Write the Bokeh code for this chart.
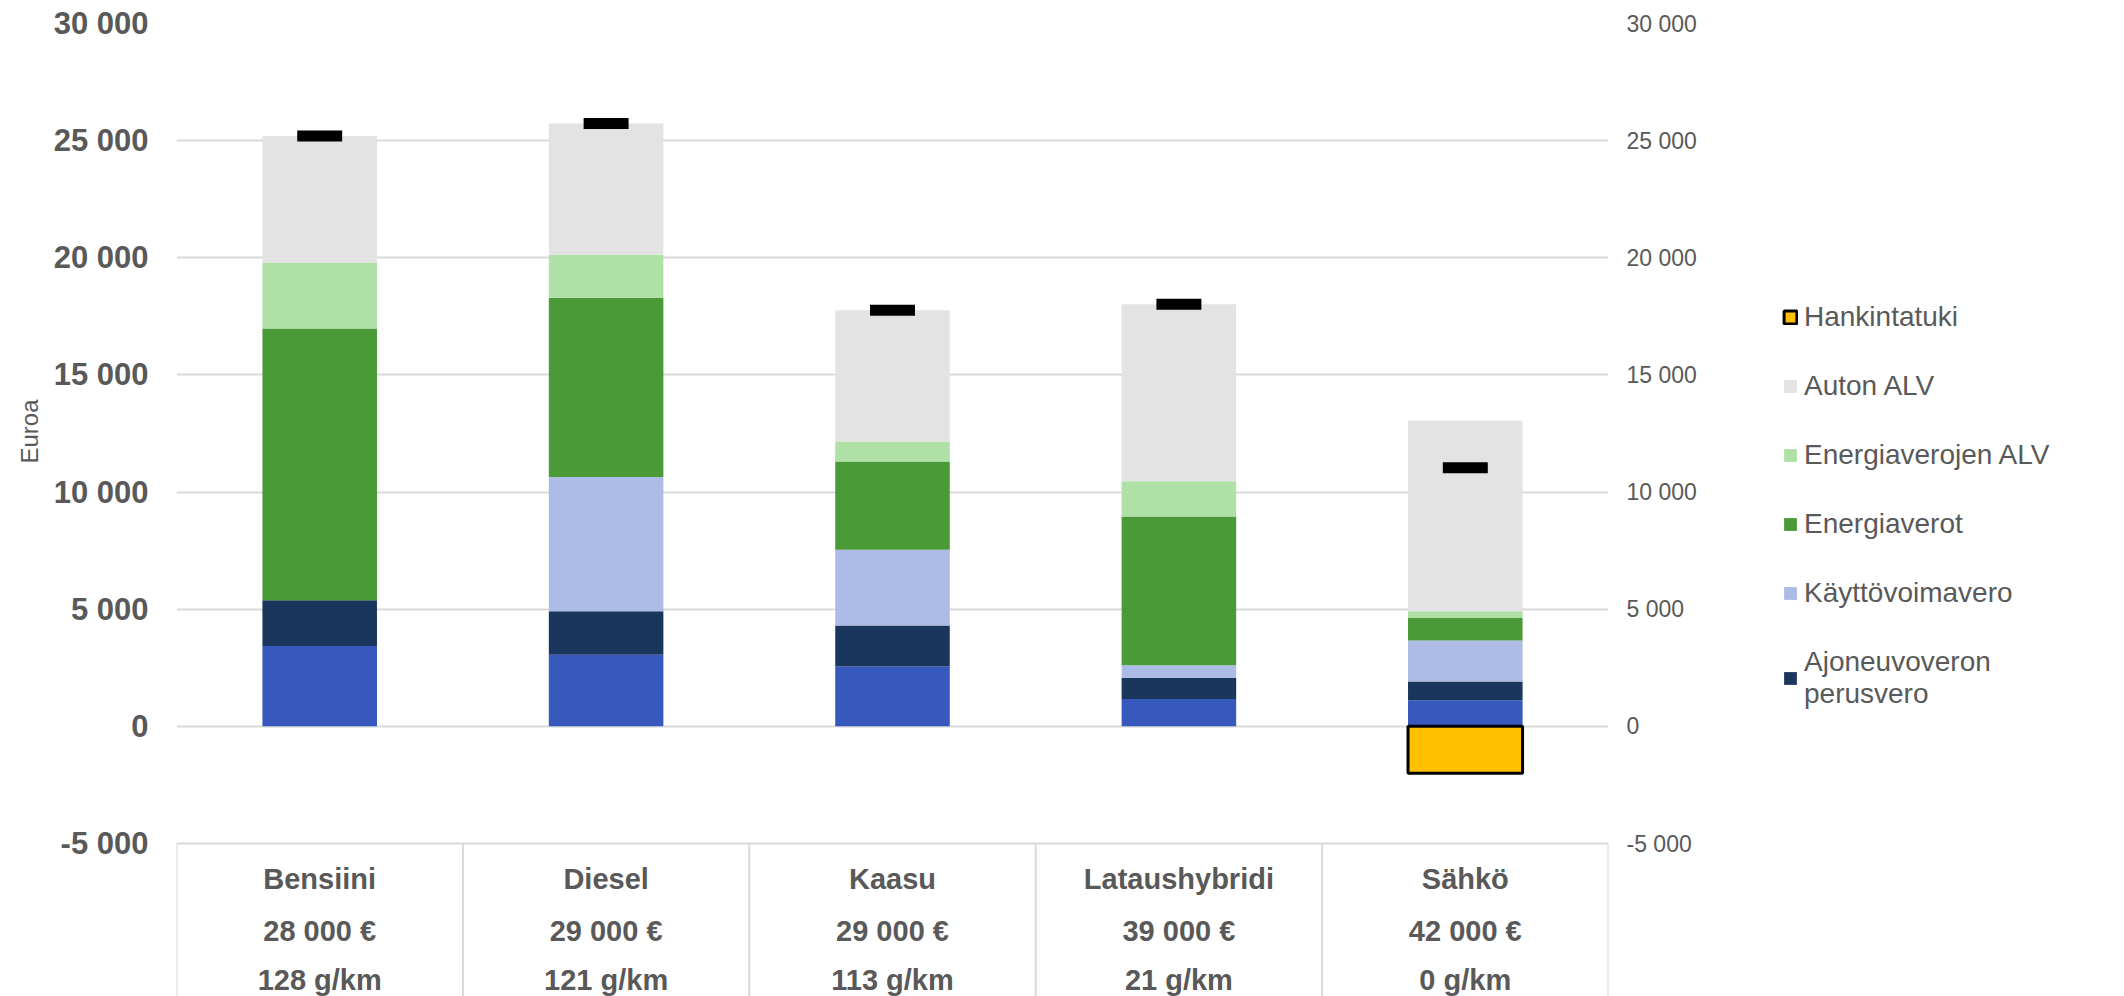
from bokeh.plotting import figure
from bokeh.layouts import row
from bokeh.models import Range1d, LinearAxis, FixedTicker, Legend, LegendItem, ColumnDataSource, Title
from bokeh.embed import file_html
from bokeh.resources import INLINE
from bokeh.core.properties import value

# ---------------- data ----------------
categories = ["Bensiini", "Diesel", "Kaasu", "Lataushybridi", "Sähkö"]
prices = ["28 000 €", "29 000 €", "29 000 €", "39 000 €", "42 000 €"]
emissions = ["128 g/km", "121 g/km", "113 g/km", "21 g/km", "0 g/km"]

ajoneuvovero_muu = [3430, 3060, 2560, 1170, 1110]      # bright blue bottom part (not in legend)
perusvero = [1950, 1850, 1740, 900, 810]               # Ajoneuvoveron perusvero
kayttovoimavero = [0, 5735, 3240, 540, 1740]           # Käyttövoimavero
energiaverot = [11600, 7645, 3760, 6345, 965]          # Energiaverot
energiaverojen_alv = [2800, 1835, 855, 1510, 285]      # Energiaverojen ALV
auton_alv = [5420, 5610, 5610, 7550, 8130]             # Auton ALV
hankintatuki = [0, 0, 0, 0, -2000]                     # Hankintatuki

legend_labels = ["Hankintatuki", "Auton ALV", "Energiaverojen ALV", "Energiaverot",
                 "Käyttövoimavero", "Ajoneuvoveron\nperusvero"]

y_ticks = [-5000, 0, 5000, 10000, 15000, 20000, 25000, 30000]

# ---------------- styling ----------------
FONT = "Liberation Sans"
TXT = "#595959"
GRID = "#D9D9D9"
colors = ["#3759BE", "#1B365D", "#ADBCE6", "#4A9B37", "#AFE0A5", "#E3E3E3"]
YELLOW = "#FFC000"

n = len(categories)
xs = [i + 0.5 for i in range(n)]
totals = [sum(v) for v in zip(ajoneuvovero_muu, perusvero, kayttovoimavero, energiaverot,
                              energiaverojen_alv, auton_alv, hankintatuki)]

MAIN_W = 1740
Y_MIN = -11530
p = figure(width=MAIN_W, height=996, x_range=Range1d(0, n), y_range=Range1d(Y_MIN, 30000),
           output_backend="svg", toolbar_location=None, x_axis_location=None,
           min_border_left=176, min_border_right=MAIN_W - 1608, min_border_top=23,
           min_border_bottom=0)
p.outline_line_color = None
p.background_fill_color = "white"
p.border_fill_color = "white"

overrides = {t: f"{t:,}".replace(",", " ") for t in y_ticks}

ax = p.yaxis[0]
ax.ticker = FixedTicker(ticks=y_ticks)
ax.major_label_overrides = overrides
ax.axis_line_color = None
ax.major_tick_line_color = None
ax.minor_tick_line_color = None
ax.major_tick_out = 0
ax.major_tick_in = 0
ax.minor_tick_out = 0
ax.major_label_text_font = FONT
ax.major_label_text_font_size = "31px"
ax.major_label_text_font_style = "bold"
ax.major_label_text_color = TXT
ax.major_label_standoff = 28

rax = LinearAxis(ticker=FixedTicker(ticks=y_ticks), major_label_overrides=overrides)
rax.axis_line_color = None
rax.major_tick_line_color = None
rax.minor_tick_line_color = None
rax.major_tick_out = 0
rax.major_tick_in = 0
rax.minor_tick_out = 0
rax.major_label_text_font = FONT
rax.major_label_text_font_size = "23px"
rax.major_label_text_color = TXT
rax.major_label_standoff = 18
p.add_layout(rax, "right")

ylab = Title(text="Euroa", align="right", offset=376, text_font=FONT, text_font_size="24px",
             text_font_style="normal", text_color=TXT, standoff=15)
p.add_layout(ylab, "left")

for g in p.ygrid:
    g.ticker = FixedTicker(ticks=y_ticks)
    g.grid_line_color = GRID
    g.grid_line_width = 2
for g in p.xgrid:
    g.visible = False

# stacked positive bars
src = ColumnDataSource(dict(x=xs, a=ajoneuvovero_muu, b=perusvero, c=kayttovoimavero,
                            d=energiaverot, e=energiaverojen_alv, f=auton_alv))
stack = p.vbar_stack(["a", "b", "c", "d", "e", "f"], x="x", width=0.4, source=src,
                     fill_color=colors, line_color=None)

# negative bar (subsidy)
neg_x = [x for x, v in zip(xs, hankintatuki) if v != 0]
neg_v = [v for v in hankintatuki if v != 0]
neg = p.vbar(x=neg_x, top=[0] * len(neg_v), bottom=neg_v, width=0.4,
             fill_color=YELLOW, line_color="black", line_width=3)

# total markers
p.rect(x=xs, y=totals, width=0.157, height=11, height_units="screen",
       fill_color="black", line_color=None)

# category table below the plot
bounds = list(range(n + 1))
p.segment(x0=bounds, y0=[y_ticks[0]] * len(bounds), x1=bounds, y1=[Y_MIN] * len(bounds),
          line_color=GRID, line_width=2)
for rows, off in ((categories, 35), (prices, 87), (emissions, 136)):
    p.text(x=xs, y=[y_ticks[0]] * n, text=rows, y_offset=off,
           text_font=value(FONT), text_font_size="29px", text_font_style="bold",
           text_color=TXT, text_align="center", text_baseline="middle")

# ---------------- legend panel (separate figure to the right) ----------------
pl = figure(width=2124 - MAIN_W, height=996, x_range=Range1d(0, 1), y_range=Range1d(0, 1),
            output_backend="svg", toolbar_location=None, x_axis_location=None,
            y_axis_location=None, min_border=0)
pl.outline_line_color = None
pl.grid.visible = False
pl.background_fill_color = "white"
pl.border_fill_color = "white"

leg_styles = [dict(fill_color=YELLOW, line_color="black", line_width=3),
              dict(fill_color=colors[5], line_color=None),
              dict(fill_color=colors[4], line_color=None),
              dict(fill_color=colors[3], line_color=None),
              dict(fill_color=colors[2], line_color=None),
              dict(fill_color=colors[1], line_color=None)]
nan = float("nan")
items = []
for lab, st in zip(legend_labels, leg_styles):
    # legend swatch renderer: a single undrawable (NaN) bar, used only for the legend
    r = pl.vbar(x=[nan], top=[nan], bottom=[nan], width=0.1, **st)
    items.append(LegendItem(label=lab, renderers=[r]))

legend = Legend(items=items, location=(42, 286))
legend.label_text_font = FONT
legend.label_text_font_size = "28px"
legend.label_text_color = TXT
legend.glyph_width = 16
legend.glyph_height = 16
legend.label_standoff = 6
legend.spacing = 37
legend.padding = 0
legend.margin = 0
legend.border_line_color = None
legend.background_fill_alpha = 0
pl.add_layout(legend)

layout = row(p, pl, spacing=0)
open("out.html", "w", encoding="utf-8").write(file_html(layout, INLINE))
